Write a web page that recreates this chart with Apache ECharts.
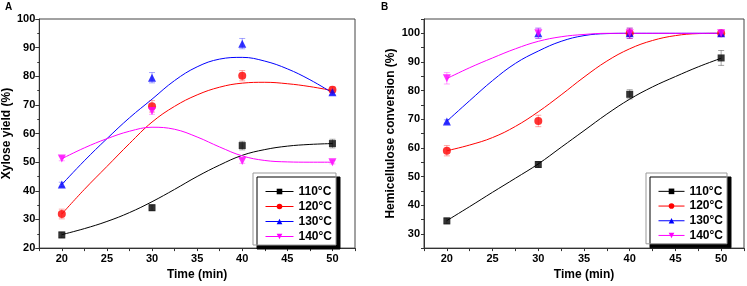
<!DOCTYPE html>
<html><head><meta charset="utf-8">
<script src="https://cdn.jsdelivr.net/npm/echarts@6/dist/echarts.min.js"></script>
<style>html,body{margin:0;padding:0;background:#fff}#c{width:747px;height:286px}</style>
</head><body><div id="c"></div>
<script>
// ---- data ----
const seriesNames = ['110°C', '120°C', '130°C', '140°C'];
const timePoints = [20, 30, 40, 50];
const curveX = [20, 22.5, 25, 27.5, 30, 32.5, 35, 37.5, 40, 42.5, 45, 47.5, 50];

// Panel A: xylose yield (%)
const yield110 = [24.6, 34.1, 55.8, 56.5];
const yield120 = [31.9, 69.5, 80.2, 75.3];
const yield130 = [42.2, 79.5, 91.4, 74.4];
const yield140 = [51.3, 67.9, 50.4, 50.0];
const yieldErr110 = [1.0, 1.0, 1.5, 1.5];
const yieldErr120 = [1.7, 2.0, 1.8, 1.0];
const yieldErr130 = [0.8, 1.8, 1.8, 0.8];
const yieldErr140 = [0.8, 1.2, 0.8, 0.6];
const yieldFit110 = [24.7, 26.8, 29.3, 32.4, 36.2, 40.5, 45.0, 49.0, 52.4, 54.4, 55.6, 56.2, 56.5];
const yieldFit120 = [31.9, 40.5, 48.5, 56.5, 64.0, 69.5, 73.5, 76.2, 77.6, 77.9, 77.4, 76.4, 75.0];
const yieldFit130 = [42.2, 50.5, 58.2, 65.5, 72.0, 78.5, 83.3, 86.0, 86.6, 85.3, 82.6, 78.8, 74.2];
const yieldFit140 = [51.2, 55.0, 58.2, 60.8, 62.2, 61.5, 58.8, 55.3, 52.2, 50.6, 50.1, 50.0, 50.0];

// Panel B: hemicellulose conversion (%)
const conv110 = [34.5, 54.2, 78.7, 91.4];
const conv120 = [59.0, 69.4, 100, 100];
const conv130 = [69.2, 100, 100, 100];
const conv140 = [84.3, 100, 100, 100];
const convErr110 = [1.0, 1.0, 1.6, 2.6];
const convErr120 = [1.8, 2.0, 1.8, 1.0];
const convErr130 = [0.6, 1.8, 1.8, 1.0];
const convErr140 = [2.0, 1.8, 1.8, 1.0];
const convFit110 = [34.6, 39.5, 44.5, 49.4, 54.4, 60.2, 66.0, 71.8, 77.0, 81.3, 84.9, 88.3, 91.3];
const convFit120 = [59.0, 61.0, 63.6, 67.5, 72.6, 78.5, 84.7, 90.3, 94.6, 97.5, 99.2, 99.9, 100];
const convFit130 = [69.3, 76.5, 83.5, 89.5, 93.8, 97.2, 99.2, 99.9, 100, 100, 100, 100, 100];
const convFit140 = [84.2, 88.0, 91.4, 94.6, 97.2, 98.8, 99.6, 100, 100, 100, 100, 100, 100];

// ---- styling ----
const colors = ['#000000', '#ff0000', '#0000ff', '#ff00ff'];
const errColors = ['rgba(0,0,0,0.35)', 'rgba(255,0,0,0.35)', 'rgba(0,0,255,0.35)', 'rgba(255,0,255,0.35)'];
const symbols = ['rect', 'circle', 'triangle', 'triangle'];
const rotates = [0, 0, 0, 180];
const sizes = [7, 8, 8, 8];
const FONT = 'Liberation Sans, Arial, sans-serif';

const panels = [
  {pts: [yield110, yield120, yield130, yield140], err: [yieldErr110, yieldErr120, yieldErr130, yieldErr140],
   fit: [yieldFit110, yieldFit120, yieldFit130, yieldFit140]},
  {pts: [conv110, conv120, conv130, conv140], err: [convErr110, convErr120, convErr130, convErr140],
   fit: [convFit110, convFit120, convFit130, convFit140]}
];

const series = [];
panels.forEach((p, pi) => {
  for (let k = 0; k < 4; k++) {
    series.push({
      type: 'line', name: seriesNames[k], xAxisIndex: pi, yAxisIndex: pi,
      data: curveX.map((x, i) => [x, p.fit[k][i]]),
      smooth: 0.4, showSymbol: false, symbol: symbols[k], symbolRotate: rotates[k], symbolSize: sizes[k],
      lineStyle: {width: 1, color: colors[k]}, itemStyle: {color: colors[k]}, z: 2, silent: true
    });
  }
  for (let k = 0; k < 4; k++) {
    series.push({
      type: 'custom', name: 'err' + pi + k, xAxisIndex: pi, yAxisIndex: pi, z: 3, silent: true,
      data: timePoints.map((x, i) => [x, p.pts[k][i], p.err[k][i]]),
      renderItem: (params, api) => {
        const x = api.value(0), y = api.value(1), e = api.value(2);
        const top = api.coord([x, y + e]), bot = api.coord([x, y - e]);
        const st = {stroke: errColors[k], lineWidth: 1};
        return {type: 'group', children: [
          {type: 'line', shape: {x1: top[0], y1: top[1], x2: bot[0], y2: bot[1]}, style: st},
          {type: 'line', shape: {x1: top[0] - 3, y1: top[1], x2: top[0] + 3, y2: top[1]}, style: st},
          {type: 'line', shape: {x1: bot[0] - 3, y1: bot[1], x2: bot[0] + 3, y2: bot[1]}, style: st}
        ]};
      }
    });
  }
  for (let k = 0; k < 4; k++) {
    series.push({
      type: 'scatter', name: 'pts' + pi + k, xAxisIndex: pi, yAxisIndex: pi, z: 4, silent: true,
      data: timePoints.map((x, i) => [x, p.pts[k][i]]),
      symbol: symbols[k], symbolRotate: rotates[k], symbolSize: sizes[k],
      itemStyle: {color: colors[k]}
    });
  }
});

const labelStyle = {color: '#000', fontSize: 11, fontWeight: 'bold', fontFamily: FONT};
const nameStyle = {color: '#000', fontSize: 12, fontWeight: 'bold', fontFamily: FONT};
const axisLine = {show: true, lineStyle: {color: '#333', width: 1}};

function xAxis(gi, gap) {
  return {
    type: 'value', gridIndex: gi, min: 17.5, max: 52.5, interval: 2.5,
    name: 'Time (min)', nameLocation: 'middle', nameGap: gap, nameTextStyle: nameStyle,
    axisLine: axisLine, axisTick: {show: true, length: 3, lineStyle: {color: '#333'}},
    axisLabel: Object.assign({margin: 5, formatter: v => (v % 5 === 0 ? String(v) : '')}, labelStyle),
    splitLine: {show: false}
  };
}

const legendBase = {
  orient: 'vertical', data: seriesNames, backgroundColor: '#fff', borderColor: '#999', borderWidth: 1,
  shadowColor: '#000', shadowBlur: 0, shadowOffsetX: 4, shadowOffsetY: 4,
  itemHeight: 7, itemGap: 0, selectedMode: false,
  lineStyle: {width: 1},
  textStyle: {color: '#000', fontSize: 12, fontWeight: 'bold', fontFamily: FONT, lineHeight: 15}
};

const option = {
  animation: false,
  grid: [
    {left: 36, top: 19, width: 319, height: 234, show: true, borderColor: '#444', borderWidth: 1},
    {left: 424, top: 19, width: 322, height: 236, show: true, borderColor: '#444', borderWidth: 1}
  ],
  xAxis: [xAxis(0, 17), xAxis(1, 16)],
  yAxis: [
    {type: 'value', gridIndex: 0, min: 20, max: 100, interval: 10,
     name: 'Xylose yield (%)', nameLocation: 'middle', nameGap: 22, nameTextStyle: nameStyle,
     axisLine: axisLine, axisTick: {show: true, length: 4, lineStyle: {color: '#333'}},
     minorTick: {show: true, splitNumber: 2, length: 2, lineStyle: {color: '#333'}},
     axisLabel: Object.assign({margin: 4}, labelStyle), splitLine: {show: false}},
    {type: 'value', gridIndex: 1, min: 25, max: 105, interval: 5,
     name: 'Hemicellulose conversion (%)', nameLocation: 'middle', nameGap: 27, nameTextStyle: nameStyle,
     axisLine: axisLine, axisTick: {show: true, length: 3, lineStyle: {color: '#333'}},
     axisLabel: Object.assign({margin: 4, formatter: v => (v % 10 === 0 ? String(v) : '')}, labelStyle),
     splitLine: {show: false}}
  ],
  legend: [
    Object.assign({}, legendBase, {left: 253, top: 173, itemWidth: 28, padding: [11, 4, 1, 12]}),
    Object.assign({}, legendBase, {left: 646, top: 173, itemWidth: 26, padding: [11, 4, 1, 12],
      textStyle: Object.assign({}, legendBase.textStyle, {lineHeight: 14.7})})
  ],
  graphic: [
    {type: 'text', left: 5, top: 2, style: {text: 'A', fontSize: 10, fontWeight: 'bold', fontFamily: FONT, fill: '#000'}},
    {type: 'text', left: 381, top: 2, style: {text: 'B', fontSize: 10, fontWeight: 'bold', fontFamily: FONT, fill: '#000'}}
  ],
  series: series
};

const chart = echarts.init(document.getElementById('c'), null, {renderer: 'canvas'});
chart.setOption(option);
</script>
</body></html>
